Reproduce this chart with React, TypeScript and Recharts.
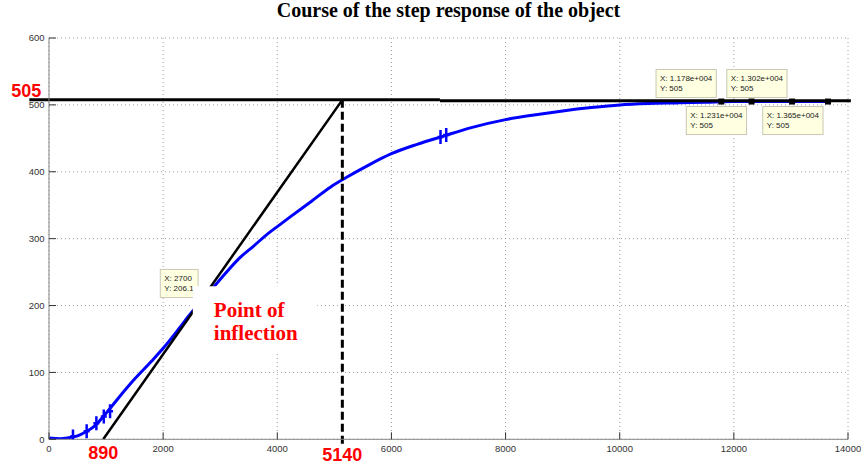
import React from "react";
import {
  ComposedChart,
  Line,
  Scatter,
  XAxis,
  YAxis,
  CartesianGrid,
  ReferenceLine,
  ReferenceArea,
  ReferenceDot,
} from "recharts";

const xTicks = [0, 2000, 4000, 6000, 8000, 10000, 12000, 14000];
const yTicks = [0, 100, 200, 300, 400, 500, 600];

const sampleTimes = [
  0, 200, 400, 500, 600, 800, 1000, 1200, 1500, 1800, 2000, 2300, 2500, 2700,
  2900, 3100, 3350, 3600, 3800, 4000, 4250, 4600, 4930, 5200, 5600, 6000, 6450,
  6900, 7400, 8000, 8500, 9000, 9500, 10000, 10500, 11000, 11500, 12000, 13000,
  13700,
];
const sampleValues = [
  2, 1, 3, 5, 9, 20, 39, 60, 90, 117, 136, 168, 190, 208, 229, 249, 272, 290,
  305, 318, 334, 356, 377, 391, 410, 427, 441, 453, 466, 478, 485, 491, 496,
  500, 502, 503, 504, 505, 505, 505,
];

// noise spikes on the measurement
const spikeTimes = [420, 660, 830, 960, 1070, 6860, 6960];
const spikeValues = [4, 12, 24, 34, 42, 452, 455];

// tangent through the inflection point
const tangentTimes = [950, 5140];
const tangentValues = [0, 507.5];

// steady-state level line (drawn in two pieces)
const levelTimes = [-345, 6850, 14050];
const levelValues = [507.5, 506];

const dashedTime = 5140;
const dashedValues = [507.5, -12];

// data tips
const inflectionTip = { x: 2700, y: 206.1, lines: ["X: 2700", "Y: 206.1"] };
const steadyTipTimes = [11780, 12310, 13020, 13650];
const steadyTipXLabels = ["X: 1.178e+004", "X: 1.231e+004", "X: 1.302e+004", "X: 1.365e+004"];
const steadyTipValue = 505;

const inflectionBoxX = [2520, 4700];
const inflectionBoxY = [130, 229];

const curve = sampleTimes.map((x, i) => ({ x, y: sampleValues[i] }));
const spikes = spikeTimes.map((x, i) => ({ x, y: spikeValues[i] }));
const steadyTips = steadyTipTimes.map((x, i) => ({
  x,
  y: steadyTipValue,
  lines: [steadyTipXLabels[i], "Y: " + steadyTipValue],
  below: i % 2 === 1,
}));

const SANS = "Arial, 'Liberation Sans', sans-serif";
const SERIF = "'Times New Roman', 'Liberation Serif', serif";

function textWidth(s: string, size: number) {
  let w = 0;
  for (const ch of s) {
    if (ch === "X" || ch === "Y") w += 0.667;
    else if (ch === ":" || ch === "." || ch === " ") w += 0.278;
    else if (ch === "+") w += 0.584;
    else w += 0.556;
  }
  return w * size;
}

function DataTip({ cx, cy, lines, below, marker }: any) {
  const w = Math.max(...lines.map((l: string) => textWidth(l, 8))) + 8;
  const h = 28;
  const right = cx - 5;
  const top = below ? cy + 5 : cy - 4 - h;
  return (
    <g>
      {marker && <rect x={cx - 3} y={cy - 3} width={6} height={6} fill="#000" />}
      <rect x={right - w} y={top} width={w} height={h} fill="#ffffe1" stroke="#c8c8b4" />
      {lines.map((l: string, i: number) => (
        <text key={i} x={right - w + 4} y={top + 11.5 + i * 10.2} fontSize={8} fill="#222" fontFamily={SANS}>
          {l}
        </text>
      ))}
    </g>
  );
}

function Spike({ cx, cy }: any) {
  return (
    <g stroke="#0000ff" strokeWidth={2.5}>
      <line x1={cx} x2={cx} y1={cy - 7} y2={cy + 7} />
      <line x1={cx - 3} x2={cx + 3} y1={cy} y2={cy} />
    </g>
  );
}

function BottomTick({ x, y, payload }: any) {
  return (
    <g>
      <line x1={x} x2={x} y1={y} y2={y - 7} stroke="#333" />
      <text x={x} y={y + 12.5} textAnchor="middle" fontSize={9.5} fill="#333" fontFamily={SANS}>
        {payload.value}
      </text>
    </g>
  );
}

function TopTick({ x, y }: any) {
  return <line x1={x} x2={x} y1={y} y2={y + 7} stroke="#333" />;
}

function LeftTick({ x, y, payload }: any) {
  return (
    <g>
      <line x1={x} x2={x + 7} y1={y} y2={y} stroke="#333" />
      <text x={x - 4.5} y={y + 3.4} textAnchor="end" fontSize={9.5} fill="#333" fontFamily={SANS}>
        {payload.value}
      </text>
    </g>
  );
}

function RightTick({ x, y }: any) {
  return <line x1={x} x2={x - 7} y1={y} y2={y} stroke="#333" />;
}

function InflectionText({ viewBox }: any) {
  const { x, y } = viewBox;
  return (
    <text fill="#ff0000" fontSize={21} fontWeight="bold" fontFamily={SERIF}>
      <tspan x={x + 21} y={y + 30.5}>Point of</tspan>
      <tspan x={x + 21} y={y + 54}>inflection</tspan>
    </text>
  );
}

const redLabel = { fill: "#ff0000", fontSize: 18, fontWeight: "bold", fontFamily: SANS };

export default function App() {
  return (
    <div style={{ position: "absolute", left: 0, top: 0, width: 861, height: 468, background: "#fff" }}>
      <div
        style={{
          position: "absolute",
          left: 49,
          top: 0,
          width: 799,
          textAlign: "center",
          fontFamily: SERIF,
          fontWeight: "bold",
          fontSize: 20,
          lineHeight: "20px",
          color: "#000",
        }}
      >
        Course of the step response of the object
      </div>
      <ComposedChart width={861} height={468} margin={{ top: 38, right: 13, bottom: 8.7, left: 9 }}>
        <CartesianGrid stroke="#a0a0a0" strokeDasharray="1 3" />
        <XAxis
          type="number"
          dataKey="x"
          domain={[0, 14000]}
          ticks={xTicks}
          interval={0}
          allowDataOverflow
          height={20}
          tickSize={0}
          tickMargin={0}
          axisLine={{ stroke: "#858585" }}
          tick={(p: any) => <BottomTick {...p} />}
        />
        <XAxis
          xAxisId="top"
          orientation="top"
          type="number"
          domain={[0, 14000]}
          ticks={xTicks}
          interval={0}
          height={0}
          tickSize={0}
          tickMargin={0}
          axisLine={{ stroke: "#333" }}
          tick={(p: any) => <TopTick {...p} />}
        />
        <YAxis
          type="number"
          domain={[0, 600]}
          ticks={yTicks}
          interval={0}
          allowDataOverflow
          width={40}
          tickSize={0}
          tickMargin={0}
          axisLine={{ stroke: "#858585" }}
          tick={(p: any) => <LeftTick {...p} />}
        />
        <YAxis
          yAxisId="right"
          orientation="right"
          type="number"
          domain={[0, 600]}
          ticks={yTicks}
          interval={0}
          width={0}
          tickSize={0}
          tickMargin={0}
          axisLine={{ stroke: "#858585" }}
          tick={(p: any) => <RightTick {...p} />}
        />

        <Line
          data={curve}
          dataKey="y"
          type="monotone"
          stroke="#0000ff"
          strokeWidth={3}
          dot={false}
          isAnimationActive={false}
        />
        <Scatter data={spikes} dataKey="y" shape={(p: any) => <Spike {...p} />} isAnimationActive={false} />

        <ReferenceLine
          segment={[
            { x: tangentTimes[0], y: tangentValues[0] },
            { x: tangentTimes[1], y: tangentValues[1] },
          ]}
          stroke="#000"
          strokeWidth={2.5}
          ifOverflow="visible"
          zIndex={450}
        />
        <ReferenceLine
          segment={[
            { x: levelTimes[0], y: levelValues[0] },
            { x: levelTimes[1], y: levelValues[0] },
          ]}
          stroke="#000"
          strokeWidth={3}
          ifOverflow="visible"
          zIndex={450}
        />
        <ReferenceLine
          segment={[
            { x: levelTimes[1], y: levelValues[1] },
            { x: levelTimes[2], y: levelValues[1] },
          ]}
          stroke="#000"
          strokeWidth={3}
          ifOverflow="visible"
          zIndex={450}
        />
        <ReferenceLine
          segment={[
            { x: dashedTime, y: dashedValues[0] },
            { x: dashedTime, y: dashedValues[1] },
          ]}
          stroke="#000"
          strokeWidth={3}
          strokeDasharray="8 4"
          ifOverflow="visible"
          zIndex={450}
        />

        <Scatter
          data={[inflectionTip]}
          dataKey="y"
          shape={(p: any) => <DataTip {...p} lines={p.payload.lines} below={false} marker={false} />}
          isAnimationActive={false}
          zIndex={650}
        />

        <ReferenceArea
          x1={inflectionBoxX[0]}
          x2={inflectionBoxX[1]}
          y1={inflectionBoxY[0]}
          y2={inflectionBoxY[1]}
          fill="#ffffff"
          fillOpacity={1}
          stroke="none"
          ifOverflow="visible"
          zIndex={700}
          label={(p: any) => <InflectionText {...p} />}
        />

        <Scatter
          data={steadyTips}
          dataKey="y"
          shape={(p: any) => <DataTip {...p} lines={p.payload.lines} below={p.payload.below} marker />}
          isAnimationActive={false}
          zIndex={800}
        />

        <ReferenceDot
          x={-400}
          y={levelValues[0]}
          r={0}
          fill="none"
          stroke="none"
          ifOverflow="visible"
          label={{ value: "505", position: "top", offset: 3.3, ...redLabel }}
        />
        <ReferenceDot
          x={tangentTimes[0]}
          y={0}
          r={0}
          fill="none"
          stroke="none"
          ifOverflow="visible"
          label={{ value: "890", position: "bottom", offset: 7, ...redLabel }}
        />
        <ReferenceDot
          x={dashedTime}
          y={0}
          r={0}
          fill="none"
          stroke="none"
          ifOverflow="visible"
          label={{ value: "5140", position: "bottom", offset: 9, ...redLabel }}
        />
      </ComposedChart>
    </div>
  );
}
